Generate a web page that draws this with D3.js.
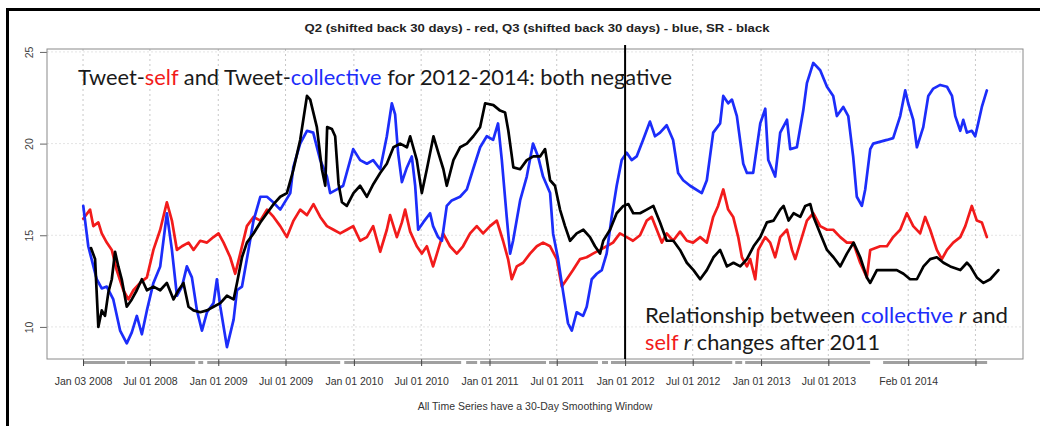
<!DOCTYPE html>
<html>
<head>
<meta charset="utf-8">
<script src="https://cdn.jsdelivr.net/npm/d3@7"></script>
<style>
  body { margin: 0; background: #fff; }
  svg { display: block; }
</style>
</head>
<body>
<svg id="canvas"></svg>
<script>
// Q2 (red), Q3 (blue), SR (black) - [decimal year, value]
const q2 = [[2008.007,15.9],[2008.057,16.4],[2008.081,15.5],[2008.118,15.7],[2008.143,15.1],[2008.180,14.6],[2008.217,14.2],[2008.253,13.1],[2008.302,12.0],[2008.339,11.5],[2008.376,12.0],[2008.425,12.4],[2008.475,12.7],[2008.523,14.2],[2008.573,15.3],[2008.622,16.8],[2008.659,15.8],[2008.696,14.2],[2008.733,14.4],[2008.781,14.6],[2008.818,14.2],[2008.867,14.7],[2008.917,14.6],[2008.965,14.9],[2009.002,15.1],[2009.039,14.6],[2009.088,13.8],[2009.125,12.9],[2009.162,14.0],[2009.211,15.5],[2009.260,16.0],[2009.310,15.8],[2009.359,16.4],[2009.408,16.0],[2009.457,15.5],[2009.506,14.9],[2009.555,15.8],[2009.604,16.4],[2009.654,16.1],[2009.702,16.7],[2009.752,16.0],[2009.801,15.5],[2009.850,15.3],[2009.899,15.1],[2009.948,15.3],[2009.995,15.5],[2010.046,14.7],[2010.096,14.9],[2010.142,15.5],[2010.194,14.1],[2010.243,15.3],[2010.267,16.1],[2010.317,14.9],[2010.354,15.7],[2010.378,16.4],[2010.415,15.2],[2010.464,14.4],[2010.501,14.0],[2010.538,14.4],[2010.584,13.3],[2010.621,14.2],[2010.658,15.1],[2010.709,14.4],[2010.759,14.0],[2010.805,14.4],[2010.857,15.1],[2010.906,15.5],[2010.953,15.1],[2011.004,15.5],[2011.054,15.8],[2011.100,14.7],[2011.137,13.7],[2011.164,12.6],[2011.201,13.3],[2011.248,13.5],[2011.299,14.0],[2011.349,14.4],[2011.395,14.6],[2011.447,14.4],[2011.496,13.7],[2011.533,12.2],[2011.570,12.6],[2011.616,13.1],[2011.668,13.7],[2011.717,13.8],[2011.763,14.0],[2011.815,14.2],[2011.864,14.4],[2011.911,14.6],[2011.962,15.1],[2012.012,14.9],[2012.058,14.7],[2012.110,15.0],[2012.159,15.8],[2012.196,16.0],[2012.233,15.3],[2012.270,14.6],[2012.306,15.1],[2012.353,14.7],[2012.404,15.2],[2012.454,14.7],[2012.500,14.6],[2012.552,14.9],[2012.601,14.6],[2012.648,16.0],[2012.684,16.6],[2012.722,17.5],[2012.758,16.4],[2012.795,16.0],[2012.832,14.9],[2012.859,13.8],[2012.896,13.3],[2012.920,13.7],[2012.957,12.6],[2012.979,14.2],[2013.031,14.9],[2013.067,14.6],[2013.104,13.8],[2013.141,14.9],[2013.191,15.3],[2013.228,14.2],[2013.252,13.7],[2013.289,14.6],[2013.338,15.8],[2013.385,16.2],[2013.436,15.5],[2013.486,15.3],[2013.532,15.3],[2013.584,14.9],[2013.633,14.6],[2013.679,14.6],[2013.731,13.5],[2013.780,12.7],[2013.805,14.2],[2013.878,14.4],[2013.928,14.4],[2013.974,14.9],[2014.026,15.3],[2014.075,16.2],[2014.122,15.5],[2014.173,15.1],[2014.210,16.0],[2014.247,15.3],[2014.296,14.2],[2014.333,13.7],[2014.371,14.2],[2014.417,14.6],[2014.469,14.9],[2014.506,15.5],[2014.554,16.6],[2014.591,15.8],[2014.628,15.7],[2014.665,14.9]]

const q3 = [[2008.007,16.6],[2008.044,14.4],[2008.106,12.6],[2008.143,12.1],[2008.180,12.2],[2008.228,11.5],[2008.278,9.8],[2008.327,9.1],[2008.364,9.7],[2008.401,10.6],[2008.438,9.6],[2008.475,10.9],[2008.523,12.4],[2008.573,13.3],[2008.622,16.2],[2008.659,14.2],[2008.696,11.7],[2008.733,12.2],[2008.769,13.3],[2008.806,12.7],[2008.843,10.9],[2008.880,9.8],[2008.917,10.8],[2008.965,11.3],[2008.990,12.6],[2009.015,11.1],[2009.064,8.9],[2009.113,10.4],[2009.138,12.0],[2009.175,12.2],[2009.211,13.7],[2009.260,15.8],[2009.310,17.1],[2009.359,17.1],[2009.405,16.8],[2009.457,16.4],[2009.531,17.3],[2009.553,18.7],[2009.604,20.0],[2009.654,20.7],[2009.700,20.6],[2009.752,19.1],[2009.801,18.2],[2009.825,17.3],[2009.875,17.5],[2009.921,17.7],[2009.973,19.1],[2009.995,19.7],[2010.046,19.1],[2010.096,18.9],[2010.142,19.1],[2010.194,18.6],[2010.243,20.4],[2010.280,22.2],[2010.304,21.6],[2010.326,19.5],[2010.354,17.9],[2010.391,18.7],[2010.427,19.3],[2010.452,17.7],[2010.474,15.3],[2010.511,15.7],[2010.562,16.2],[2010.584,15.5],[2010.621,14.9],[2010.649,14.7],[2010.685,16.6],[2010.722,16.9],[2010.783,17.1],[2010.833,17.5],[2010.879,18.6],[2010.931,19.8],[2010.980,20.4],[2011.027,20.2],[2011.063,21.1],[2011.091,19.1],[2011.127,16.0],[2011.152,14.0],[2011.174,14.7],[2011.226,16.9],[2011.275,18.2],[2011.321,20.0],[2011.358,19.3],[2011.395,18.2],[2011.447,17.3],[2011.469,15.1],[2011.506,13.7],[2011.543,11.9],[2011.579,10.2],[2011.607,9.8],[2011.643,10.8],[2011.690,10.6],[2011.717,11.1],[2011.754,12.6],[2011.791,12.9],[2011.828,13.1],[2011.864,14.0],[2011.901,16.0],[2011.938,17.7],[2011.975,19.1],[2012.012,19.5],[2012.048,19.1],[2012.085,19.3],[2012.132,20.2],[2012.183,21.2],[2012.220,20.4],[2012.257,20.6],[2012.306,21.0],[2012.353,20.2],[2012.390,18.4],[2012.427,18.0],[2012.478,17.7],[2012.564,17.3],[2012.601,18.0],[2012.648,20.6],[2012.699,21.1],[2012.722,22.6],[2012.758,22.2],[2012.786,22.4],[2012.822,21.5],[2012.869,18.9],[2012.896,18.4],[2012.942,18.4],[2012.994,21.1],[2013.031,21.9],[2013.053,19.1],[2013.104,18.2],[2013.141,20.6],[2013.191,21.3],[2013.215,19.7],[2013.264,19.8],[2013.311,21.8],[2013.338,23.3],[2013.385,24.4],[2013.436,24.0],[2013.486,23.1],[2013.532,22.6],[2013.559,21.5],[2013.606,22.0],[2013.643,21.5],[2013.679,19.3],[2013.706,17.1],[2013.743,16.6],[2013.768,17.5],[2013.805,19.7],[2013.827,20.0],[2013.928,20.2],[2013.974,20.3],[2014.026,21.5],[2014.063,22.9],[2014.085,22.2],[2014.122,21.3],[2014.149,19.8],[2014.196,20.9],[2014.233,22.6],[2014.270,23.0],[2014.321,23.2],[2014.371,23.1],[2014.408,22.6],[2014.432,21.5],[2014.469,20.7],[2014.491,21.3],[2014.518,20.6],[2014.554,20.7],[2014.579,20.4],[2014.601,21.1],[2014.628,22.0],[2014.665,22.9]]

const sr = [[2008.064,14.3],[2008.094,13.7],[2008.118,10.0],[2008.143,10.9],[2008.167,10.6],[2008.192,11.9],[2008.217,12.6],[2008.241,14.1],[2008.265,13.3],[2008.290,12.6],[2008.327,11.1],[2008.364,11.5],[2008.401,12.0],[2008.438,12.6],[2008.475,12.0],[2008.523,12.2],[2008.573,12.0],[2008.622,12.4],[2008.671,11.5],[2008.707,12.0],[2008.744,12.4],[2008.781,11.1],[2008.818,10.9],[2008.867,10.8],[2008.917,10.9],[2008.965,11.1],[2009.015,11.3],[2009.064,11.7],[2009.113,11.5],[2009.138,12.4],[2009.175,13.8],[2009.211,14.6],[2009.260,15.1],[2009.310,15.7],[2009.359,16.2],[2009.408,16.7],[2009.457,17.1],[2009.506,17.3],[2009.555,18.6],[2009.604,20.2],[2009.654,22.6],[2009.678,22.4],[2009.727,20.9],[2009.764,18.6],[2009.789,17.7],[2009.803,20.9],[2009.838,20.8],[2009.862,20.4],[2009.887,17.8],[2009.912,16.8],[2009.948,16.6],[2009.997,17.3],[2010.046,17.7],[2010.096,17.1],[2010.144,17.8],[2010.194,18.4],[2010.243,18.9],[2010.292,19.8],[2010.341,20.0],[2010.391,19.8],[2010.415,20.4],[2010.464,19.1],[2010.501,17.3],[2010.538,18.6],[2010.587,20.4],[2010.623,19.5],[2010.660,18.6],[2010.685,17.7],[2010.734,19.1],[2010.783,19.8],[2010.833,20.0],[2010.881,20.4],[2010.931,20.9],[2010.968,22.2],[2011.029,22.1],[2011.078,21.8],[2011.115,21.7],[2011.139,20.7],[2011.176,18.7],[2011.226,18.6],[2011.275,19.1],[2011.323,19.3],[2011.373,19.3],[2011.410,19.7],[2011.447,18.0],[2011.483,17.7],[2011.520,16.4],[2011.557,15.5],[2011.594,14.7],[2011.643,15.1],[2011.692,15.3],[2011.741,14.9],[2011.778,14.4],[2011.815,14.0],[2011.839,14.7],[2011.889,15.3],[2011.938,16.2],[2011.987,16.6],[2012.024,16.7],[2012.060,16.2],[2012.110,16.2],[2012.159,16.4],[2012.208,16.6],[2012.257,15.7],[2012.306,14.7],[2012.355,14.7],[2012.404,14.2],[2012.454,13.5],[2012.503,13.1],[2012.552,12.6],[2012.601,13.1],[2012.650,13.8],[2012.699,14.2],[2012.749,13.3],[2012.797,13.5],[2012.847,13.3],[2012.896,13.7],[2012.945,14.4],[2012.994,14.9],[2013.043,15.7],[2013.092,15.8],[2013.141,16.4],[2013.166,16.6],[2013.203,15.8],[2013.240,16.2],[2013.289,16.0],[2013.326,16.6],[2013.363,16.7],[2013.387,16.0],[2013.436,15.1],[2013.486,14.2],[2013.534,13.8],[2013.584,13.3],[2013.633,14.0],[2013.682,14.6],[2013.731,13.8],[2013.780,12.7],[2013.805,12.4],[2013.854,13.1],[2013.928,13.1],[2014.001,13.1],[2014.050,12.9],[2014.099,12.6],[2014.149,12.6],[2014.198,13.3],[2014.247,13.7],[2014.296,13.8],[2014.345,13.5],[2014.395,13.3],[2014.469,13.1],[2014.518,13.5],[2014.543,13.3],[2014.591,12.7],[2014.640,12.4],[2014.690,12.6],[2014.750,13.1]]

const tickDates = ["2008-01-03","2008-07-01","2009-01-01","2009-07-01","2010-01-01","2010-07-01","2011-01-01","2011-07-01","2012-01-01","2012-07-01","2013-01-01","2013-07-01","2014-02-01","2014-08-01"]
const tickLabels = ["Jan 03 2008","Jul 01 2008","Jan 01 2009","Jul 01 2009","Jan 01 2010","Jul 01 2010","Jan 01 2011","Jul 01 2011","Jan 01 2012","Jul 01 2012","Jan 01 2013","Jul 01 2013","Feb 01 2014",""]
const yTicks = [10, 15, 20, 25]

// days with no data (white gaps in the date rug under the axis)
const rugRange = [2008.005, 2014.667]
const rugGaps = [[2008.315,2008.329],[2008.830,2008.853],[2008.889,2008.919],[2009.899,2009.929],[2010.791,2010.828],[2010.909,2010.931],[2011.417,2011.439],[2011.800,2011.830],[2011.874,2011.896],[2012.788,2012.810],[2012.861,2012.883],[2013.804,2013.900]]

const splitDate = "2012-01-01"

const width = 1040, height = 426
const plot = {left: 47, right: 1023, top: 49, bottom: 359}

const parse = d3.timeParse("%Y-%m-%d")
// decimal year -> Date
let toDate = function (t) {
    let yr = Math.floor(t)
    let a = new Date(yr, 0, 1), b = new Date(yr + 1, 0, 1)
    return new Date(+a + (t - yr) * (b - a))
}

const svg = d3.select("#canvas")
    .attr("width", width)
    .attr("height", height)
    .style("font-family", "'Liberation Sans', Arial, sans-serif")

svg.append("rect").attr("width", width).attr("height", height).attr("fill", "#fff")

// frame of the screenshot
svg.append("rect").attr("x", 6).attr("y", 8).attr("width", 3).attr("height", height - 8).attr("fill", "#000")
svg.append("rect").attr("x", 6).attr("y", 8).attr("width", width - 6).attr("height", 3).attr("fill", "#000")

const x = d3.scaleTime()
    .domain([new Date(2007, 8, 28), new Date(2014, 11, 7)])
    .range([plot.left, plot.right])

const y = d3.scaleLinear()
    .domain([8.25, 25.16])
    .range([plot.bottom, plot.top])

// grid
svg.append("g").selectAll("line").data(yTicks).join("line")
    .attr("x1", plot.left).attr("x2", plot.right)
    .attr("y1", d => y(d)).attr("y2", d => y(d))
    .attr("stroke", "#e4e4e4").attr("stroke-dasharray", "2,2")

svg.append("g").selectAll("line").data(tickDates).join("line")
    .attr("x1", d => x(parse(d))).attr("x2", d => x(parse(d)))
    .attr("y1", plot.top).attr("y2", plot.bottom)
    .attr("stroke", "#c8c8c8").attr("stroke-dasharray", "2,3")

// date rug under the plot
let rugSegs = []
let start = rugRange[0]
rugGaps.forEach(g => { rugSegs.push([start, g[0]]); start = g[1] })
rugSegs.push([start, rugRange[1]])
svg.append("g").selectAll("rect").data(rugSegs).join("rect")
    .attr("x", d => x(toDate(d[0])))
    .attr("width", d => x(toDate(d[1])) - x(toDate(d[0])))
    .attr("y", 361).attr("height", 3)
    .attr("fill", "#a0a0a0")

// x axis
const xAxis = svg.append("g")
    .attr("transform", `translate(0,${plot.bottom})`)
    .call(d3.axisBottom(x)
        .tickValues(tickDates.map(parse))
        .tickFormat((d, i) => tickLabels[i])
        .tickSize(7)
        .tickPadding(12))
xAxis.select(".domain").remove()
xAxis.selectAll(".tick line").attr("stroke", "#444")
xAxis.selectAll(".tick text")
    .attr("fill", "#333")
    .style("font-size", "10.5px")
    .style("font-family", "'Liberation Sans', Arial, sans-serif")

// y axis
const yAxis = svg.append("g")
    .attr("transform", `translate(${plot.left},0)`)
    .call(d3.axisLeft(y).tickValues(yTicks).tickSize(7).tickFormat(d3.format("d")))
yAxis.select(".domain").remove()
yAxis.selectAll(".tick line").attr("stroke", "#666")
yAxis.selectAll(".tick text")
    .attr("transform", "rotate(-90)")
    .attr("x", 0).attr("y", -14).attr("dy", 0)
    .attr("text-anchor", "middle")
    .attr("fill", "#444")
    .style("font-size", "10.5px")
    .style("font-family", "'Liberation Sans', Arial, sans-serif")

// plot box
svg.append("rect")
    .attr("x", plot.left).attr("y", plot.top)
    .attr("width", plot.right - plot.left).attr("height", plot.bottom - plot.top)
    .attr("fill", "none").attr("stroke", "#8a8a8a")

// series
const line = d3.line()
    .x(d => x(toDate(d[0])))
    .y(d => y(d[1]))

const series = [
    {name: "Q2", data: q2, color: "#f21b1b"},
    {name: "Q3", data: q3, color: "#1c2dfa"},
    {name: "SR", data: sr, color: "#000000"}
]

svg.append("g").selectAll("path").data(series).join("path")
    .attr("d", d => line(d.data))
    .attr("fill", "none")
    .attr("stroke", d => d.color)
    .attr("stroke-width", 2.7)
    .attr("stroke-linejoin", "round")
    .attr("stroke-linecap", "round")

// split line at Jan 2012
svg.append("line")
    .attr("x1", x(parse(splitDate))).attr("x2", x(parse(splitDate)))
    .attr("y1", plot.top - 4).attr("y2", plot.bottom)
    .attr("stroke", "#000").attr("stroke-width", 2)

// title and footer
svg.append("text")
    .attr("x", (plot.left + plot.right) / 2 + 2).attr("y", 32)
    .attr("text-anchor", "middle")
    .attr("font-weight", "bold")
    .attr("font-size", 10.5)
    .attr("fill", "#222")
    .attr("textLength", 465).attr("lengthAdjust", "spacingAndGlyphs")
    .text("Q2 (shifted back 30 days) - red, Q3 (shifted back 30 days) - blue, SR - black")

svg.append("text")
    .attr("x", (plot.left + plot.right) / 2).attr("y", 410)
    .attr("text-anchor", "middle")
    .attr("font-size", 10.5)
    .attr("fill", "#333")
    .text("All Time Series have a 30-Day Smoothing Window")

// annotations
const annoFont = "Lato, 'Open Sans', sans-serif"
const red = "#f21b1b", blue = "#1c2dfa", ink = "#1a1a1a"

let addNote = function (xPos, yPos, len, parts) {
    let t = svg.append("text")
        .attr("x", xPos).attr("y", yPos)
        .style("font-family", annoFont)
        .attr("font-size", 21.5)
        .attr("textLength", len).attr("lengthAdjust", "spacingAndGlyphs")
    parts.forEach(p => {
        t.append("tspan")
            .attr("fill", p[1])
            .attr("font-style", p[2] ? "italic" : null)
            .text(p[0])
    })
}

addNote(78, 85, 594, [["Tweet-", ink], ["self", red], [" and Tweet-", ink], ["collective", blue], [" for 2012-2014: both negative", ink]])
addNote(645, 323, 363, [["Relationship between ", ink], ["collective", blue], [" ", ink], ["r", ink, true], [" and", ink]])
addNote(645, 350, 235, [["self", red], [" ", ink], ["r", ink, true], [" changes after 2011", ink]])
</script>
</body>
</html>
